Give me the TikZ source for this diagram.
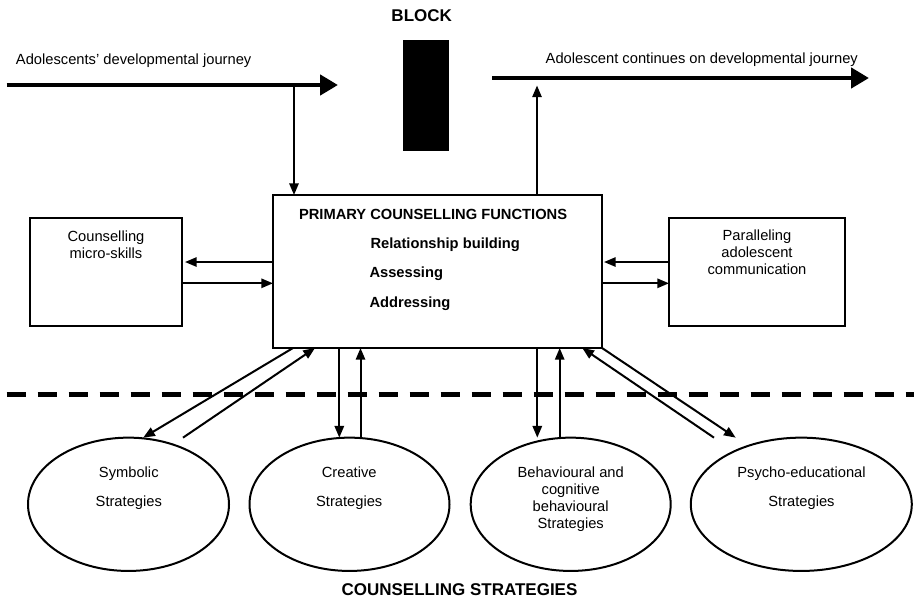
\documentclass[tikz,border=0pt]{standalone}
\usepackage{fontspec}
\setmainfont{Liberation Sans}
\usetikzlibrary{arrows.meta,shapes.geometric,calc}
\begin{document}
\begin{tikzpicture}[x=1pt,y=-1pt,
  every node/.style={inner sep=0pt, outer sep=0pt, font=\fontsize{14.7}{17}\selectfont},
  txt/.style={anchor=base},
  txtl/.style={anchor=base west},
  bold/.style={font=\fontsize{14.7}{17}\selectfont\bfseries},
  head/.style={font=\fontsize{17}{20}\selectfont\bfseries},
  arr/.style={line width=2pt, -{Triangle[length=11.7pt,width=9.3pt]}},
  bigarr/.style={line width=4.7pt, -{Triangle[length=18pt,width=20pt]}},
  box/.style={draw, line width=2pt, rectangle},
  oval/.style={draw, line width=2pt, ellipse, minimum height=133.3pt},
  divider/.style={line width=5pt, dash pattern=on 19pt off 12pt}
]
\useasboundingbox (0,0) rectangle (914,598);

% journey arrows
\coordinate (j1s) at (6.7,85);
\coordinate (j1e) at (338,85);
\coordinate (j2s) at (492.3,78);
\coordinate (j2e) at (869,78);
\draw[bigarr] (j1s) -- (j1e);
\draw[bigarr] (j2s) -- (j2e);
\node[txtl] (t1) at (16,64) {Adolescents' developmental journey};
\node[txtl] (t2) at (545.7,63.5) {Adolescent continues on developmental journey};

% block
\node[head, txt] (blocklbl) at (421.7,21.7) {BLOCK};
\node[fill=black, minimum width=46pt, minimum height=111pt] (block) at (426,95.5) {};

% main box
\node[box, minimum width=329pt, minimum height=153pt] (main) at (437.5,271.5) {};
\node[bold, txtl] (pcf) at (299,219) {PRIMARY COUNSELLING FUNCTIONS};
\node[bold, txtl] (rb) at (370.5,248) {Relationship building};
\node[bold, txtl] (as) at (369.5,277.6) {Assessing};
\node[bold, txtl] (ad) at (369.5,307.2) {Addressing};

% vertical connections to journey
\coordinate (d1) at (294,85);
\coordinate (u1) at (537,85.5);
\draw[arr] (d1) -- (d1 |- main.north);
\draw[arr] (u1 |- main.north) -- (u1);

% side boxes
\node[box, minimum width=152pt, minimum height=108.3pt] (cms) at (106,271.9) {};
\node[txt] (cms1) at (106,241.5) {Counselling};
\node[txt] (cms2) at (106,258) {micro-skills};

\node[box, minimum width=176pt, minimum height=108.3pt] (pac) at (757,271.9) {};
\node[txt] (pac1) at (757,240.5) {Paralleling};
\node[txt] (pac2) at (757,257.3) {adolescent};
\node[txt] (pac3) at (757,274.6) {communication};

\coordinate (r1) at (0,262);
\coordinate (r2) at (0,283.3);
\draw[arr] (main.west |- r1) -- ([xshift=3pt]cms.east |- r1);
\draw[arr] (cms.east |- r2) -- (main.west |- r2);
\draw[arr] (pac.west |- r1) -- ([xshift=2pt]main.east |- r1);
\draw[arr] (main.east |- r2) -- (pac.west |- r2);

% divider
\coordinate (dl) at (6.7,394);
\coordinate (dr) at (914,394);
\draw[divider] (dl) -- (dr);

% strategies
\node[oval, minimum width=201pt] (sym) at (128.5,504.3) {};
\node[oval, minimum width=200pt] (cre) at (349.5,504.3) {};
\node[oval, minimum width=200pt] (beh) at (570.7,504.3) {};
\node[oval, minimum width=221pt] (psy) at (801.3,504.3) {};

\node[txt] (sym1) at (128.8,477.8) {Symbolic};
\node[txt] (sym2) at (128.8,506.5) {Strategies};
\node[txt] (cre1) at (349.2,477.8) {Creative};
\node[txt] (cre2) at (349.2,506.5) {Strategies};
\node[txt] (beh1) at (570.7,477.8) {Behavioural and};
\node[txt] (beh2) at (570.7,494.8) {cognitive};
\node[txt] (beh3) at (570.7,511.8) {behavioural};
\node[txt] (beh4) at (570.7,528.8) {Strategies};
\node[txt] (psy1) at (801.5,477.8) {Psycho-educational};
\node[txt] (psy2) at (801.5,506.5) {Strategies};

\node[head, txt] (cs) at (459.5,595) {COUNSELLING STRATEGIES};

% main <-> strategies
\coordinate (a1) at (293,0);
\coordinate (a2) at (315,0);
\coordinate (a3) at (339.3,0);
\coordinate (a4) at (360.5,0);
\coordinate (a5) at (537.3,0);
\coordinate (a6) at (559.7,0);
\coordinate (a7) at (582.3,0);
\draw[arr] (a1 |- main.south) -- ([xshift=14.7pt]sym.north);
\draw[arr] ([xshift=54.5pt]sym.north) -- (a2 |- main.south);
\draw[arr] (a3 |- main.south) -- (a3 |- cre.north);
\draw[arr] (a4 |- cre.north) -- (a4 |- main.south);
\draw[arr] (a5 |- main.south) -- (a5 |- beh.north);
\draw[arr] (a6 |- beh.north) -- (a6 |- main.south);
\draw[arr] ([xshift=-87.3pt]psy.north) -- (a7 |- main.south);
\draw[arr] (main.south east) -- ([xshift=-65.6pt]psy.north);
\end{tikzpicture}
\end{document}
